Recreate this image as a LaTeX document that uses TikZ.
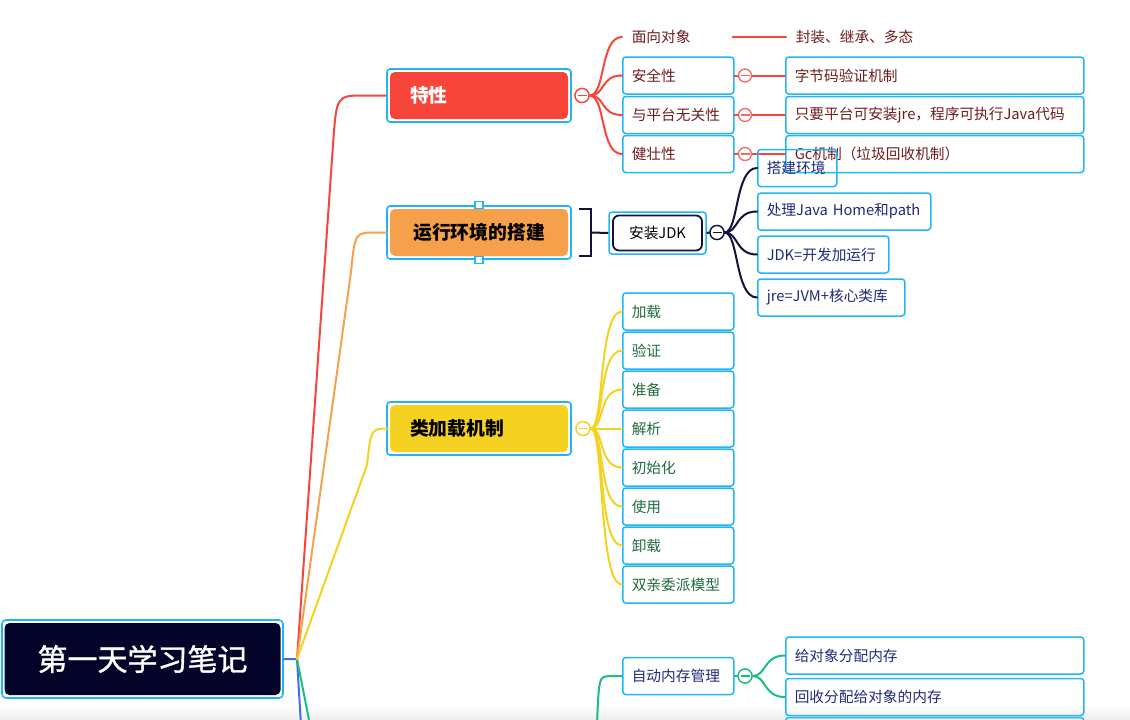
\documentclass[tikz,border=0pt]{standalone}
\usepackage{fontspec}
\setmainfont{Noto Sans CJK SC}
\newfontfamily\rootfont[FakeBold=1.2]{Noto Sans CJK SC}
\definecolor{bx}{HTML}{1FB5F7}
\definecolor{redc}{HTML}{F8453C}
\definecolor{orangec}{HTML}{F7A04C}
\definecolor{yellowc}{HTML}{F5D222}
\definecolor{greenc}{HTML}{1BBE7A}
\definecolor{bluec}{HTML}{3E6CF5}
\definecolor{rootc}{HTML}{04042A}
\definecolor{navyl}{HTML}{10143C}
\definecolor{redtxt}{HTML}{6E1C1C}
\definecolor{greentxt}{HTML}{1E6B3C}
\definecolor{navytxt}{HTML}{202A78}
\definecolor{lightred}{HTML}{F36A66}
\tikzset{
  branch/.style={line width=2pt, line cap=round},
  leaf/.style={draw=bx, line width=1.5pt, rounded corners=3pt, anchor=west,
    inner xsep=9pt, inner ysep=0pt, minimum height=37pt, text width=#1,
    align=left, font=\fontsize{14.7}{16}\selectfont},
  outerbox/.style={draw=bx, line width=1.6pt, rounded corners=3pt,
    minimum width=184pt, minimum height=53pt},
  mainfill/.style={rounded corners=5pt, minimum width=178pt, minimum height=47pt,
    text width=138pt, inner xsep=20pt, align=left,
    font=\fontsize{18.8}{20}\selectfont\bfseries},
  fold/.style={circle, draw=#1, line width=1.3pt, fill=white, minimum size=14pt,
    inner sep=0pt,
    path picture={\draw[#1, line width=1.2pt]
      ([xshift=-4.5pt]path picture bounding box.center) --
      ([xshift=4.5pt]path picture bounding box.center);}},
  handle/.style={draw=bx, line width=1.2pt, fill=white, minimum width=8pt,
    minimum height=7pt, inner sep=0pt}
}
\begin{document}
\begin{tikzpicture}[x=1pt,y=-1pt]
\useasboundingbox (0,0) rectangle (1130,720);
\clip (0,0) rectangle (1130,720);
\shade[top color=white, bottom color=black!7] (0,704) rectangle (1130,720);

% ---------- root ----------
\node[draw=bx, line width=1.6pt, rounded corners=4pt, minimum width=281pt,
  minimum height=78pt] (root) at (142.5,659) {};
\node[fill=rootc, rounded corners=5pt, minimum width=276pt, minimum height=72pt,
  text=white, font=\rootfont\fontsize{30}{32}\selectfont] (rooti) at (root.center) {第一天学习笔记};
\coordinate (hub) at (297,659);
\coordinate (bEnd) at (301,725);
\coordinate (gEnd) at (310,725);

% ---------- main topics ----------
\node[outerbox] (t1) at (479,95.5) {};
\node[mainfill, fill=redc, text=white] (t1i) at (t1.center) {特性};
\node[outerbox] (t2) at (479,232.5) {};
\node[mainfill, fill=orangec, text=black, align=center] (t2i) at (t2.center) {运行环境的搭建};
\node[handle] (h2a) at (t2.north) {};
\node[handle] (h2b) at (t2.south) {};
\node[outerbox] (t3) at (479,428.5) {};
\node[mainfill, fill=yellowc, text=black] (t3i) at (t3.center) {类加载机制};

% main connectors
\draw[branch, bluec] (root.east) -- (hub) -- (bEnd);
\draw[branch, greenc] (hub) -- (gEnd);
\draw[branch, redc] (hub) -- (333,145) .. controls (336.5,95.5) .. (364,95.5) -- (t1.west);
\draw[branch, orangec] (hub) -- (351,272) .. controls (355,232.5) .. (376,232.5) -- (t2.west);
\draw[branch, yellowc] (hub) -- (367,465) .. controls (371,428.5) .. (389,428.5) -- (t3.west);

% ---------- 特性 subtree ----------
\node[fold=redc] (c1) at (582,95.5) {};
\node[leaf=93pt, draw=none, text=redtxt] (m1) at (622,37) {面向对象};
\node[leaf=93pt, text=redtxt] (s1) at (622,75.5) {安全性};
\node[leaf=93pt, text=redtxt] (s2) at (622,115) {与平台无关性};
\node[leaf=93pt, text=redtxt] (s3) at (622,154) {健壮性};
\node[leaf=180pt, draw=none, text=redtxt] (r0) at (786,37) {封装、继承、多态};
\node[leaf=280pt, text=redtxt] (r1) at (785,75.5) {字节码验证机制};
\node[leaf=280pt, text=redtxt] (r2) at (785,115) {只要平台可安装jre，程序可执行Java代码};
\node[leaf=280pt, text=redtxt] (r3) at (785,154) {Gc机制（垃圾回收机制）};
\foreach \n in {m1,s1,s2,s3}
  \draw[branch, redc] (c1.east) .. controls +(16,0) and +(-22,0) .. (\n.west);
\draw[branch, redc] ([xshift=-2pt]m1.east) -- (r0.west);
\foreach \a/\b/\y in {s1/r1/75.5,s2/r2/115,s3/r3/154}{
  \draw[branch, redc] (\a.east) -- (\b.west);
  \node[fold=lightred, minimum size=13pt] at (745,\y) {};
}
\node[fold=redc] at (582,95.5) {};

% ---------- 运行环境 subtree ----------
\node[draw=bx, line width=1.5pt, rounded corners=3pt, minimum width=97pt,
  minimum height=42pt] (j) at (657.5,233) {};
\node[draw=navyl, line width=1.8pt, rounded corners=6pt, fill=white,
  minimum width=89pt, minimum height=35pt, font=\fontsize{14.7}{16}\selectfont]
  (ji) at (j.center) {安装JDK};
\draw[line width=2pt, navyl] (579,209) -- (591,209) -- (591,256) -- (579,256);
\draw[line width=2pt, navyl] (591,232.5) -- (j.west);
\node[fold=navyl] (c2) at (717,232.5) {};
\node[leaf=61pt, text=navytxt] (k1) at (757,168) {搭建环境};
\node[leaf=155pt, text=navytxt] (k2) at (757,211.5) {处理Java Home和path};
\node[leaf=113pt, text=navytxt] (k3) at (757,254.5) {JDK=开发加运行};
\node[leaf=129pt, text=navytxt] (k4) at (757,297.5) {jre=JVM+核心类库};
\draw[line width=2pt, navyl] (j.east) -- (c2.west);
\foreach \n in {k1,k2,k3,k4}
  \draw[branch, navyl] (c2.east) .. controls +(14,0) and +(-22,0) .. (\n.west);
\node[fold=navyl] at (717,232.5) {};

% ---------- 类加载机制 subtree ----------
\node[fold=yellowc] (c3) at (583,428.5) {};
\foreach \t [count=\i] in {加载,验证,准备,解析,初始化,使用,卸载,双亲委派模型}{
  \node[leaf=93pt, text=greentxt] (y\i) at (622,272.5+39*\i) {\t};
  \draw[branch, yellowc] (c3.east) .. controls +(14,0) and +(-24,0) .. (y\i.west);
}
\node[fold=yellowc] at (583,428.5) {};

% ---------- 自动内存管理 subtree ----------
\coordinate (gIn) at (597,725);
\node[leaf=93pt, text=navytxt] (g1) at (622,676) {自动内存管理};
\node[leaf=280pt, text=navytxt] (q1) at (785,655.5) {给对象分配内存};
\node[leaf=280pt, text=navytxt] (q2) at (785,697) {回收分配给对象的内存};
\node[leaf=280pt] (q3) at (785,736) {};
\draw[branch, greenc] (gIn) -- (598,700) .. controls (600,676) .. (614,676) -- (g1.west);
\node[fold=greenc] (c4) at (745,676) {};
\draw[branch, greenc] (g1.east) -- (c4.west);
\foreach \n in {q1,q2}
  \draw[branch, greenc] (c4.east) .. controls +(14,0) and +(-22,0) .. (\n.west);
\node[fold=greenc] at (745,676) {};
\end{tikzpicture}
\end{document}
